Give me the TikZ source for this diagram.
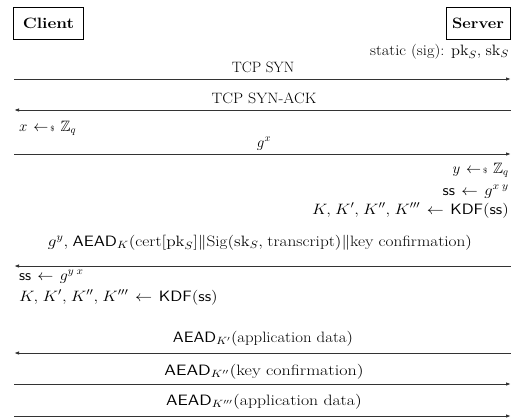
\RequirePackage{fix-cm}
\documentclass[tikz,border=0pt]{standalone}
\usepackage{amsmath,amssymb,graphicx}
\usetikzlibrary{arrows.meta}
\newcommand{\smp}{\mathrel{\leftarrow\!{\scriptscriptstyle\$}}}
\newcommand{\msf}[1]{\mathsf{#1}}
\newcommand{\hstretch}[2]{\scalebox{#1}[1]{#2}}
\thinmuskip=4.5mu
\thickmuskip=7mu plus 2mu
\begin{document}
\begin{tikzpicture}[x=1pt,y=-1pt,
  every node/.style={font=\fontsize{15}{18}\selectfont, inner sep=0pt},
  party/.style={draw, line width=0.9pt, minimum height=32pt, font=\fontsize{15}{18}\selectfont\bfseries},
  msg/.style={line width=1pt, draw=black!80},
  tip/.style={-{Latex[length=5pt,width=3.5pt]}},
  lbl/.style={anchor=base},
  rgt/.style={anchor=base east},
  lft/.style={anchor=base west}]
\useasboundingbox (0,0) rectangle (511,418);
\node[party, minimum width=70pt] (client) at (48.5,23) {\hstretch{1.15}{Client}};
\node[party, minimum width=64pt] (server) at (478,23) {\hstretch{1.1}{Server}};
\node[rgt] (static) at (509,55) {\hstretch{1.1}{static (sig): $\mathrm{pk}_S, \mathrm{sk}_S$}};

\foreach \n/\y in {1/79,2/110,3/154,4/266,5/353,6/384,7/416}{
  \coordinate (L\n) at (14,\y);
  \coordinate (R\n) at (511,\y);
}
\draw[msg,tip] (L1) -- (R1);
\node[lbl] (m1) at (263,72) {TCP SYN};
\draw[msg,tip] (R2) -- (L2);
\node[lbl] (m2) at (264,103) {\hstretch{1.07}{TCP SYN-ACK}};
\node[lft] (c1) at (19,131) {$x \smp \mathbb{Z}_q$};
\node[lbl] (m3) at (264,147) {$g^x$};
\draw[msg,tip] (L3) -- (R3);
\node[rgt] (s1) at (509,173) {$y \smp \mathbb{Z}_q$};
\node[rgt] (s2) at (509,195) {\hstretch{1.1}{$\msf{ss} \leftarrow g^{x\,y}$}};
\node[rgt] (s3) at (509,214) {\hstretch{1.13}{$K, K', K'', K''' \leftarrow \msf{KDF}(\msf{ss})$}};
\node[lbl] (m4) at (260,246) {\hstretch{1.15}{$g^y, \msf{AEAD}_K(\text{cert}[\mathrm{pk}_S] \| \text{Sig}(\mathrm{sk}_S, \text{transcript}) \| \text{key confirmation})$}};
\draw[msg,tip] (R4) -- (L4);
\node[lft] (c2) at (19,280) {\hstretch{1.07}{$\msf{ss} \leftarrow g^{y\,x}$}};
\node[lft] (c3) at (19,301) {\hstretch{1.14}{$K, K', K'', K''' \leftarrow \msf{KDF}(\msf{ss})$}};
\node[lbl] (m5) at (263,342) {\hstretch{1.12}{$\msf{AEAD}_{K'}(\text{application data})$}};
\draw[msg,tip] (R5) -- (L5);
\node[lbl] (m6) at (264,375) {\hstretch{1.2}{$\msf{AEAD}_{K''}(\text{key confirmation})$}};
\draw[msg,tip] (L6) -- (R6);
\node[lbl] (m7) at (264,405) {\hstretch{1.18}{$\msf{AEAD}_{K'''}(\text{application data})$}};
\draw[msg,tip] (L7) -- (R7);
\end{tikzpicture}
\end{document}
